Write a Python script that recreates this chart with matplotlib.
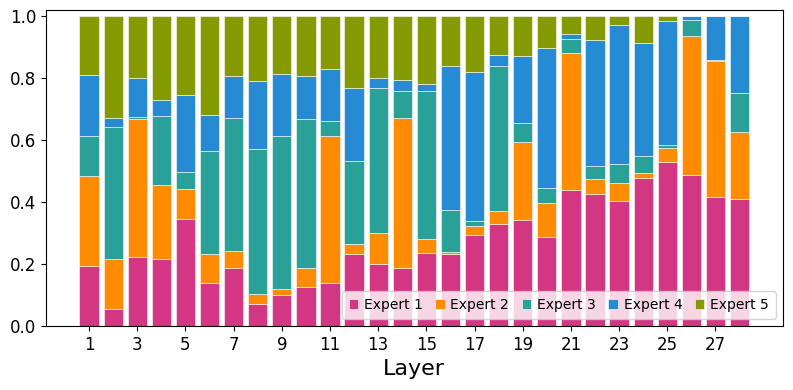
import matplotlib.pyplot as plt
import numpy as np

layers = np.arange(1, 29)
# cumulative tops (expert 1..4), expert 5 fills to 1
e1 = [0.194, 0.056, 0.224, 0.215, 0.347, 0.140, 0.188, 0.070, 0.100, 0.125,
      0.138, 0.231, 0.201, 0.188, 0.235, 0.231, 0.294, 0.328, 0.341, 0.287,
      0.438, 0.427, 0.405, 0.478, 0.530, 0.488, 0.416, 0.409]
c2 = [0.485, 0.217, 0.669, 0.455, 0.441, 0.234, 0.242, 0.103, 0.119, 0.189,
      0.614, 0.266, 0.299, 0.672, 0.282, 0.239, 0.323, 0.372, 0.595, 0.398,
      0.883, 0.476, 0.462, 0.494, 0.576, 0.938, 0.855, 0.625]
c3 = [0.615, 0.642, 0.674, 0.677, 0.498, 0.565, 0.672, 0.573, 0.613, 0.667,
      0.662, 0.534, 0.767, 0.758, 0.760, 0.375, 0.338, 0.839, 0.654, 0.446,
      0.928, 0.517, 0.523, 0.549, 0.586, 0.987, 0.860, 0.751]
c4 = [0.810, 0.672, 0.800, 0.731, 0.745, 0.683, 0.806, 0.792, 0.813, 0.806,
      0.829, 0.770, 0.800, 0.795, 0.782, 0.840, 0.820, 0.874, 0.871, 0.899,
      0.944, 0.925, 0.973, 0.915, 0.985, 1.000, 1.000, 1.000]

e1 = np.array(e1)
e2 = np.array(c2) - e1
e3 = np.array(c3) - np.array(c2)
e4 = np.array(c4) - np.array(c3)
e5 = 1 - np.array(c4)

experts = [e1, e2, e3, e4, e5]
names = ['Expert 1', 'Expert 2', 'Expert 3', 'Expert 4', 'Expert 5']
colors = ['#d33682', '#ff8c00', '#2aa198', '#268bd2', '#859900']

fig = plt.figure(figsize=(7.93, 3.9), dpi=100)
ax = fig.add_axes([0.058, 0.164, 0.929, 0.810])

bottom = np.zeros(len(layers))
for vals, name, c in zip(experts, names, colors):
    ax.bar(layers, vals, 0.8, bottom=bottom, color=c, label=name,
           edgecolor='white', linewidth=0.4)
    bottom += vals

ax.set_ylim(0, 1.02)
ax.set_xticks(np.arange(1, 29, 2))
ax.tick_params(labelsize=12)
ax.set_yticks([0.0, 0.2, 0.4, 0.6, 0.8, 1.0])
ax.set_xlabel('Layer', fontsize=16)
ax.legend(loc='lower right', ncol=5, fontsize=10, handlelength=0.7,
          handleheight=0.7, handletextpad=0.4, columnspacing=0.9,
          borderpad=0.5)

plt.savefig('out.png', dpi=100)
